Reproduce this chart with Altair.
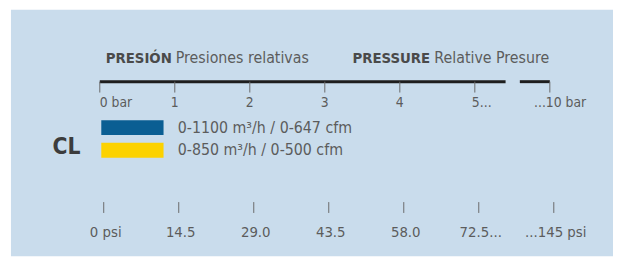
import altair as alt
import pandas as pd

# ---- data ----
bar_pos = [0, 1, 2, 3, 4, 5, 6]
bar_values = [0, 1, 2, 3, 4, 5, 10]
bar_labels = ["0 bar", "1", "2", "3", "4", "5...", "...10 bar"]
psi_labels = ["0  psi", "14.5", "29.0", "43.5", "58.0", "72.5...", "...145 psi"]
series = ["0-1100 m³/h / 0-647 cfm", "0-850 m³/h / 0-500 cfm"]
series_start = [0.02, 0.02]
series_end = [0.85, 0.85]
series_colors = ["#0a5e93", "#fcd200"]
axis_segments_start = [0, 5.6]
axis_segments_end = [5.41, 6]

FONT = "'DejaVu Sans Condensed', 'Roboto', sans-serif"
BG = "#c9dcec"
TXT = "#5c5c5c"

xs = alt.Scale(domain=[0, 6], range=[93, 549])

ticks = pd.DataFrame({"pos": bar_pos, "bar": bar_values, "label": bar_labels, "psi": psi_labels})
segs = pd.DataFrame({"a": axis_segments_start, "b": axis_segments_end})
bars = pd.DataFrame({"series": series, "start": series_start, "end": series_end})

W, H = 613, 250

panel = alt.Chart(pd.DataFrame({"k": [0]})).mark_rect(color=BG).encode(
    x=alt.value(3), x2=alt.value(W), y=alt.value(0), y2=alt.value(H)
)

def txt(s, x, y, size, bold=False, color=TXT, align="left"):
    return alt.Chart(pd.DataFrame({"t": [s]})).mark_text(
        font=FONT, fontSize=size, fontWeight="bold" if bold else "normal",
        color=color, align=align, baseline="alphabetic"
    ).encode(x=alt.value(x), y=alt.value(y), text="t:N")

titles = [
    txt("PRESIÓN", 99, 54, 15, True, "#4a4a4a"),
    txt("Presiones relativas", 170, 54, 16, False, TXT),
    txt("PRESSURE", 349, 54, 15, True, "#4a4a4a"),
    txt("Relative Presure", 432, 54, 16, False, TXT),
    txt("CL", 45, 146, 23, True, "#3c3c3c"),
]

axis_line = alt.Chart(segs).mark_rule(color="#1e1e1e", strokeWidth=3).encode(
    x=alt.X("a:Q", scale=xs, axis=None), x2="b:Q", y=alt.value(73)
)

bar_ticks = alt.Chart(ticks).mark_rule(color="#6a6a6a", strokeWidth=1).encode(
    x=alt.X("pos:Q", scale=xs, axis=None), y=alt.value(73), y2=alt.value(84)
)

def bar_label(df, align, dx):
    return alt.Chart(df).mark_text(font=FONT, fontSize=14, color=TXT, align=align,
                                   baseline="alphabetic", dx=dx).encode(
        x=alt.X("pos:Q", scale=xs, axis=None), y=alt.value(99), text="label:N"
    )

lab_mid = bar_label(ticks[(ticks.pos >= 1) & (ticks.pos <= 4)], "center", 0)
lab_zero = bar_label(ticks[ticks.pos == 0], "left", 0)
lab_five = bar_label(ticks[ticks.pos == 5], "left", -3)
lab_ten = bar_label(ticks[ticks.pos == 6], "left", -16)

ys = alt.Scale(domain=series, range=[112, 150], paddingInner=0.348, paddingOuter=0)
flow_bars = alt.Chart(bars).mark_bar().encode(
    x=alt.X("start:Q", scale=xs, axis=None), x2="end:Q",
    y=alt.Y("series:N", scale=ys, axis=None),
    color=alt.Color("series:N", scale=alt.Scale(domain=series, range=series_colors), legend=None),
)
flow_text = alt.Chart(bars).mark_text(font=FONT, fontSize=16, color=TXT, align="left", baseline="middle").encode(
    x=alt.value(172),
    y=alt.Y("series:N", scale=ys, axis=None),
    text="series:N",
)

psi_ticks = alt.Chart(ticks).mark_rule(color="#6a6a6a", strokeWidth=1, xOffset=4).encode(
    x=alt.X("pos:Q", scale=xs, axis=None), y=alt.value(195), y2=alt.value(206)
)
psi_text = alt.Chart(ticks).mark_text(font=FONT, fontSize=15, color=TXT, align="center", baseline="alphabetic", dx=6).encode(
    x=alt.X("pos:Q", scale=xs, axis=None), y=alt.value(230), text="psi:N"
)

chart = alt.layer(
    panel, *titles, axis_line, bar_ticks, lab_mid, lab_zero, lab_five, lab_ten,
    flow_bars, flow_text, psi_ticks, psi_text
).properties(width=W, height=H, padding=0, autosize="none", background="white").configure_view(stroke=None)

chart.save("out.html", embed_options={"renderer": "svg", "actions": False})
